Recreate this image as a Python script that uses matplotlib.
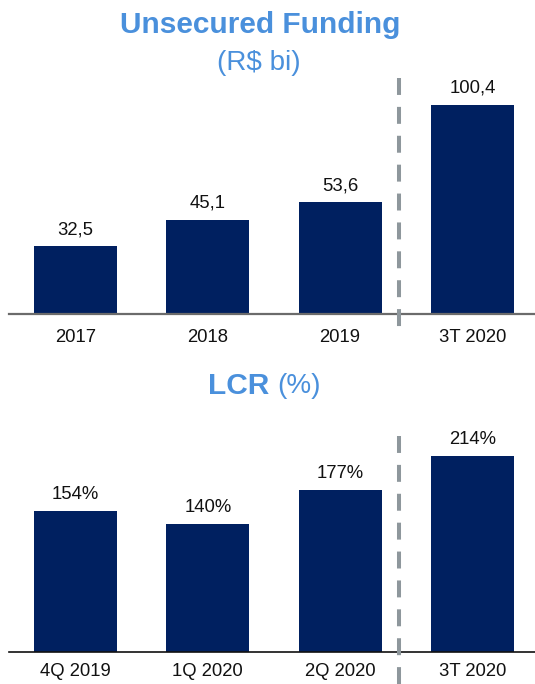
import matplotlib
matplotlib.use("Agg")
import matplotlib.pyplot as plt
from matplotlib.lines import Line2D

plt.rcParams['font.family'] = ['Liberation Sans', 'DejaVu Sans']
plt.rcParams['lines.scale_dashes'] = False

# ---- data ----
funding_categories = ["2017", "2018", "2019", "3T 2020"]
funding_values = [32.5, 45.1, 53.6, 100.4]
funding_labels = ["32,5", "45,1", "53,6", "100,4"]

lcr_categories = ["4Q 2019", "1Q 2020", "2Q 2020", "3T 2020"]
lcr_values = [154, 140, 177, 214]
lcr_labels = ["154%", "140%", "177%", "214%"]

# ---- style / layout ----
W, H = 535, 684
BAR = "#002060"
TITLE = "#4A90DC"
DASH = "#8E979C"
FS = 13.3

fig = plt.figure(figsize=(W / 100, H / 100), dpi=100)

def fy(px):
    return 1 - px / H

def fx(px):
    return px / W

x_left, x_right = 9, 535
c0, step = 75.5, 132.3
xlim = ((x_left - c0) / step, (x_right - c0) / step)

def panel(base_px, top_px, px_per_unit, cats, vals, labels, line_color, line_w, label_off):
    ax = fig.add_axes([fx(x_left), fy(base_px), fx(x_right - x_left), (base_px - top_px) / H])
    ymax = (base_px - top_px) / px_per_unit
    ax.set_xlim(*xlim)
    ax.set_ylim(0, ymax)
    xs = list(range(len(cats)))
    ax.bar(xs, vals, width=0.627, color=BAR, zorder=2)
    for x, v, lab in zip(xs, vals, labels):
        ax.annotate(lab, (x, v), xytext=(0, 12), textcoords="offset points",
                    ha="center", va="center", fontsize=FS, color="#111111")
    for x, c in zip(xs, cats):
        ax.annotate(c, (x, 0), xytext=(0, -label_off), textcoords="offset points",
                    ha="center", va="center", fontsize=FS, color="#111111",
                    annotation_clip=False)
    for s in ["top", "right", "left"]:
        ax.spines[s].set_visible(False)
    ax.spines["bottom"].set_color(line_color)
    ax.spines["bottom"].set_linewidth(line_w)
    ax.spines["bottom"].set_zorder(3)
    ax.set_xticks([])
    ax.set_yticks([])
    ax.patch.set_alpha(0)
    return ax

panel(314, 78, 209 / 100.4, funding_categories, funding_values, funding_labels,
      "#6b6b6b", 1.6, 16.8)
panel(652, 420, 196 / 214, lcr_categories, lcr_values, lcr_labels,
      "#111111", 1.2, 14.4)

# dashed separators
dash_x = fx(399)
for y0, y1 in [(78, 327), (436, 684)]:
    ln = Line2D([dash_x, dash_x], [fy(y0), fy(y1)], transform=fig.transFigure,
                color=DASH, linewidth=2.9, dashes=(12.2, 8.6), zorder=5)
    fig.add_artist(ln)

# titles
fig.text(fx(260), fy(25), "Unsecured Funding", ha="center", va="center",
         fontsize=21.5, fontweight="bold", color=TITLE)
fig.text(fx(258.5), fy(63), "(R$ bi)", ha="center", va="center",
         fontsize=20, color=TITLE)
fig.text(fx(269), fy(386), "LCR", ha="right", va="center",
         fontsize=21.5, fontweight="bold", color=TITLE)
fig.text(fx(277), fy(386), "(%)", ha="left", va="center",
         fontsize=20, color=TITLE)

fig.savefig("out.png", dpi=100)
